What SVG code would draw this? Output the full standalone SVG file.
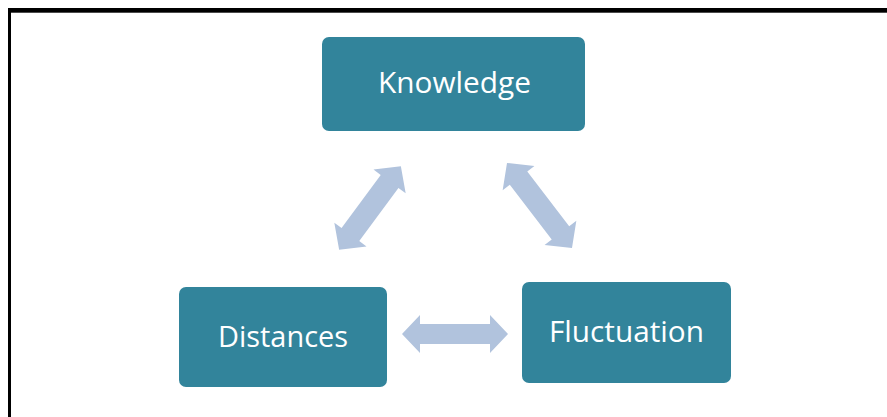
<svg xmlns="http://www.w3.org/2000/svg" width="887" height="417" viewBox="0 0 887 417">
<style>
.box{fill:#32849b;}
.lbl{fill:#ffffff;font-family:"Open Sans","Noto Sans","Liberation Sans",sans-serif;font-size:30px;text-anchor:middle;}
.arr{fill:#b1c3dd;}
</style>
<rect x="0" y="0" width="887" height="417" fill="#ffffff"/>
<rect x="8" y="8" width="879" height="4.7" fill="#000000"/>
<rect x="8" y="8" width="3" height="409" fill="#000000"/>
<g id="connectors">
<polygon class="arr" points="402,334 420,315 420,324 490,324 490,315 508,334 490,353 490,344 420,344 420,353"/>
<polygon class="arr" transform="translate(370,208) rotate(-53.6)" points="-52,0 -33,-20 -33,-11 33,-11 33,-20 52,0 33,20 33,11 -33,11 -33,20"/>
<polygon class="arr" transform="translate(539.5,205.5) rotate(52.6)" points="-53.5,0 -34.5,-20 -34.5,-11 34.5,-11 34.5,-20 53.5,0 34.5,20 34.5,11 -34.5,11 -34.5,20"/>
</g>
<g id="knowledge">
<rect class="box" x="322" y="37" width="263" height="94" rx="7"/>
<text class="lbl" x="454.5" y="93" textLength="153" lengthAdjust="spacingAndGlyphs">Knowledge</text>
</g>
<g id="distances">
<rect class="box" x="179" y="287" width="208" height="100" rx="7"/>
<text class="lbl" x="283" y="347" textLength="130" lengthAdjust="spacingAndGlyphs">Distances</text>
</g>
<g id="fluctuation">
<rect class="box" x="522" y="282" width="209" height="101" rx="7"/>
<text class="lbl" x="626.5" y="342" textLength="155" lengthAdjust="spacingAndGlyphs">Fluctuation</text>
</g>
</svg>
